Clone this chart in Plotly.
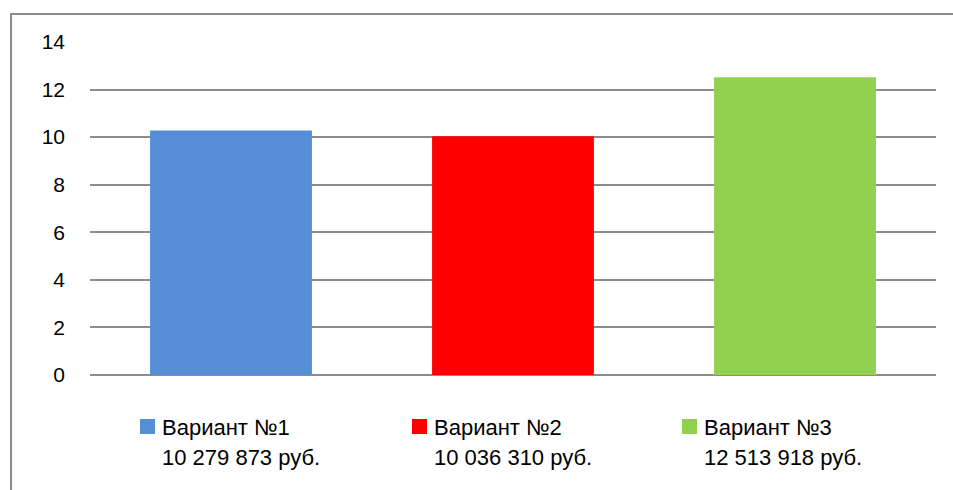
import plotly.graph_objects as go

# Project variants and their total cost (rubles)
variants = ["Вариант №1", "Вариант №2", "Вариант №3"]
costs_rub = [10279873, 10036310, 12513918]
colors = ["#558ED5", "#FF0000", "#92D050"]
y_ticks = [0, 2, 4, 6, 8, 10, 12, 14]

FONT = "Liberation Sans"
W, H = 953, 490
M_L, M_R, M_T, M_B = 90, 17, 42, 115
PW, PH = W - M_L - M_R, H - M_T - M_B


def px_x(x):
    """pixel column -> paper x"""
    return (x - M_L) / PW


def px_y(y):
    """pixel row -> paper y"""
    return (H - M_B - y) / PH


def rub(v):
    return f"{v:,}".replace(",", " ") + " руб."


fig = go.Figure()
for name, cost, col in zip(variants, costs_rub, colors):
    fig.add_trace(go.Bar(
        x=[name],
        y=[cost / 1e6],
        name=name,
        marker=dict(color=col, line=dict(width=0)),
        width=0.574,
        showlegend=False,
    ))

# outer chart frame
fig.add_shape(
    type="rect", xref="paper", yref="paper",
    x0=px_x(11), x1=px_x(W + 20), y0=px_y(H + 20), y1=px_y(14),
    line=dict(color="#8C8C8C", width=2), fillcolor="rgba(0,0,0,0)",
    layer="below",
)

# legend below the plot: swatch, name, cost
legend_left = [140, 412, 682]
for left, name, cost, col in zip(legend_left, variants, costs_rub, colors):
    fig.add_shape(
        type="rect", xref="paper", yref="paper",
        x0=px_x(left), x1=px_x(left + 15), y0=px_y(434), y1=px_y(419),
        line=dict(width=0), fillcolor=col,
    )
    for text, yc in ((name, 427), (rub(cost), 457)):
        fig.add_annotation(
            xref="paper", yref="paper",
            x=px_x(left + 20), y=px_y(yc), xanchor="left", yanchor="middle",
            text=text, showarrow=False,
            font=dict(family=FONT, size=22, color="black"),
        )

fig.update_layout(
    width=W, height=H,
    margin=dict(l=M_L, r=M_R, t=M_T, b=M_B),
    paper_bgcolor="white", plot_bgcolor="white",
    barmode="overlay",
    font=dict(family=FONT, size=21, color="black"),
    showlegend=False,
    xaxis=dict(showticklabels=False, showgrid=False, zeroline=False,
               showline=False, fixedrange=True),
    yaxis=dict(
        range=[0, 14], tickvals=y_ticks,
        showgrid=True, gridcolor="#8C8C8C", gridwidth=1.5,
        zeroline=True, zerolinecolor="#8C8C8C", zerolinewidth=1.5,
        showline=False, ticks="", ticklabelstandoff=24,
        tickfont=dict(family=FONT, size=21, color="black"),
    ),
)

fig.write_html("out.html")
